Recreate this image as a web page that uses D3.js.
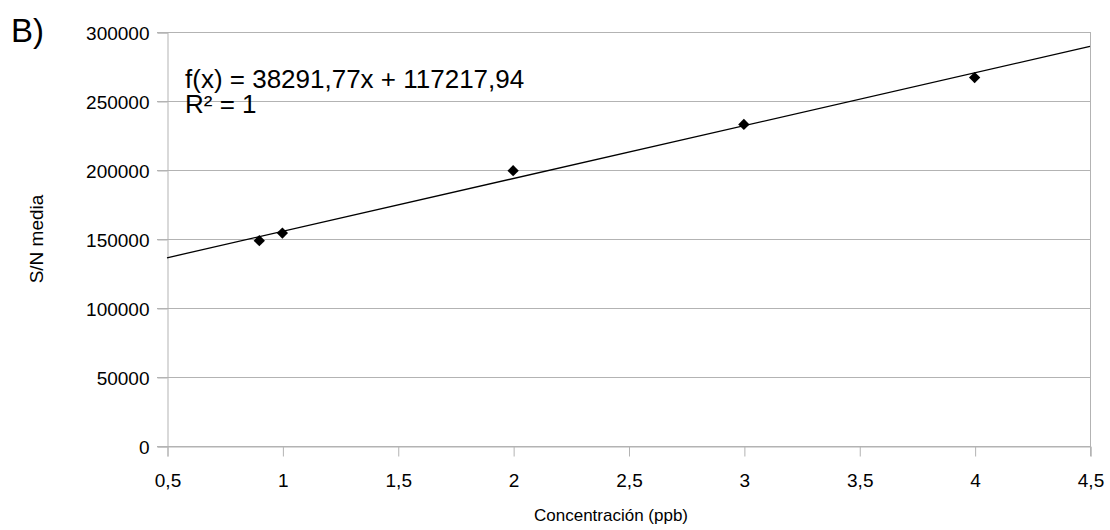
<!DOCTYPE html>
<html>
<head>
  <meta charset="utf-8">
  <script src="https://cdn.jsdelivr.net/npm/d3@7"></script>
  <style>
    body { margin: 0; background: #fff; }
    text { font-family: "Liberation Sans", Arial, sans-serif; fill: #000; }
  </style>
</head>
<body>
<script>
  // data
  var concentracion = [0.9, 1, 2, 3, 4];
  var snMedia = [148800, 154300, 199500, 233000, 267000];
  var xTicks = [0.5, 1, 1.5, 2, 2.5, 3, 3.5, 4, 4.5];
  var yTicks = [0, 50000, 100000, 150000, 200000, 250000, 300000];
  // trend line shown on the chart
  var slope = 38291.77, intercept = 117217.94;
  var eqLines = ["f(x) = 38291,77x + 117217,94", "R\u00b2 = 1"];

  var W = 1110, H = 530;
  var mLeft = 167, mRight = 1090, mTop = 32, mBottom = 446;

  var svg = d3.select("body").append("svg")
    .attr("width", W).attr("height", H);

  var x = d3.scaleLinear().domain([0.5, 4.5]).range([mLeft, mRight]);
  var y = d3.scaleLinear().domain([0, 300000]).range([mBottom, mTop]);
  var grey = "#b3b3b3";
  var fmt = function (d) { return String(d).replace(".", ","); };

  // horizontal gridlines
  svg.append("g").selectAll("line").data(yTicks).enter().append("line")
    .attr("x1", mLeft - 10).attr("x2", mRight)
    .attr("y1", function (d) { return y(d) + 0.5; })
    .attr("y2", function (d) { return y(d) + 0.5; })
    .attr("stroke", grey).attr("stroke-width", 1);

  // right border of plot area
  svg.append("line")
    .attr("x1", mRight + 0.5).attr("x2", mRight + 0.5)
    .attr("y1", mTop).attr("y2", mBottom + 10)
    .attr("stroke", grey);

  // y axis
  var yAxis = svg.append("g")
    .attr("transform", "translate(" + (mLeft + 0.5) + ",0.5)")
    .call(d3.axisLeft(y).tickValues(yTicks).tickSize(10).tickPadding(8)
      .tickFormat(function (d) { return d; }));
  // x axis
  var xAxis = svg.append("g")
    .attr("transform", "translate(0.5," + (mBottom + 0.5) + ")")
    .call(d3.axisBottom(x).tickValues(xTicks).tickSize(10).tickPadding(17)
      .tickFormat(fmt));

  [xAxis, yAxis].forEach(function (a) {
    a.select(".domain").attr("stroke", grey);
    a.selectAll(".tick line").attr("stroke", grey);
    a.selectAll("text").style("font-family", "Liberation Sans, Arial, sans-serif")
      .style("font-size", "19px").attr("fill", "#000");
  });
  yAxis.selectAll("text").attr("dy", "0.36em");

  // trend line
  svg.append("line")
    .attr("x1", x(0.5)).attr("y1", y(slope * 0.5 + intercept))
    .attr("x2", x(4.5)).attr("y2", y(slope * 4.5 + intercept))
    .attr("stroke", "#000").attr("stroke-width", 1.3);

  // points
  var pts = concentracion.map(function (c, i) { return [c, snMedia[i]]; });
  svg.append("g").selectAll("path").data(pts).enter().append("path")
    .attr("d", d3.symbol().type(d3.symbolSquare).size(64))
    .attr("transform", function (d) {
      return "translate(" + x(d[0]) + "," + y(d[1]) + ") rotate(45)";
    })
    .attr("fill", "#000");

  // equation
  svg.append("g").selectAll("text").data(eqLines).enter().append("text")
    .attr("x", 185)
    .attr("y", function (d, i) { return 88 + i * 25; })
    .style("font-size", "26px")
    .text(function (d) { return d; });

  // labels
  svg.append("text").attr("x", 11).attr("y", 42)
    .style("font-size", "33px").text("B)");

  svg.append("text")
    .attr("transform", "translate(43," + ((mTop + mBottom) / 2) + ") rotate(-90)")
    .attr("text-anchor", "middle")
    .style("font-size", "19px").text("S/N media");

  svg.append("text")
    .attr("x", 611).attr("y", 521)
    .attr("text-anchor", "middle")
    .style("font-size", "17px").text("Concentración (ppb)");
</script>
</body>
</html>
